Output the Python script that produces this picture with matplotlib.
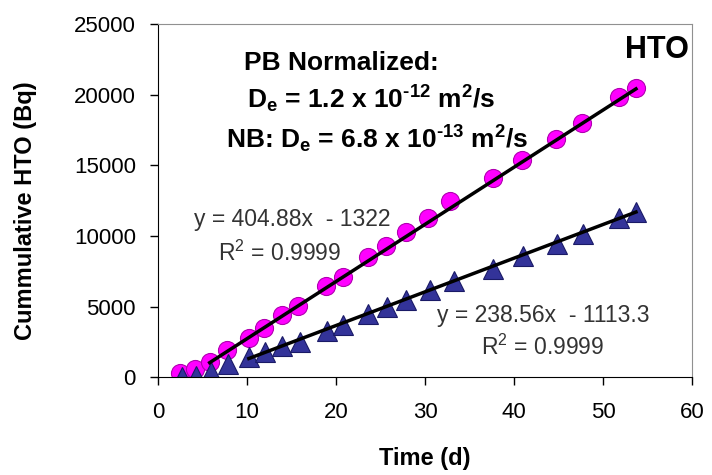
import numpy as np
import matplotlib
matplotlib.use('Agg')
import matplotlib.pyplot as plt

plt.rcParams['font.family'] = ['Liberation Sans', 'DejaVu Sans']
plt.rcParams['mathtext.fontset'] = 'custom'
plt.rcParams['mathtext.rm'] = 'Liberation Sans'
plt.rcParams['mathtext.bf'] = 'Liberation Sans:bold'
plt.rcParams['mathtext.it'] = 'Liberation Sans:italic'

# PB (pink circles)
pb_time = [2.5, 4.2, 5.8, 7.8, 10.2, 11.9, 13.9, 15.7, 18.9, 20.8, 23.6,
           25.6, 27.9, 30.3, 32.8, 37.6, 40.9, 44.7, 47.6, 51.8, 53.7]
pb_act = [280, 565, 1060, 1910, 2760, 3460, 4380, 5020, 6430, 7070, 8480,
          9260, 10250, 11240, 12510, 14130, 15410, 16890, 18020, 19860, 20490]

# NB (blue triangles)
nb_time = [2.7, 4.3, 6.0, 7.9, 10.2, 12.0, 13.9, 15.9, 19.0, 20.8, 23.6,
           25.7, 27.9, 30.6, 33.2, 37.6, 41.0, 44.8, 47.8, 51.8, 53.7]
nb_act = [0, 100, 400, 900, 1400, 1750, 2200, 2500, 3250, 3700, 4500,
          4950, 5450, 6150, 6800, 7650, 8600, 9450, 10150, 11250, 11700]

# linear fits (slope, intercept, start, end)
pb_fit = (404.88, -1322, 5.8, 53.7)
nb_fit = (238.56, -1113.3, 10.2, 53.7)

fig = plt.figure(figsize=(7.12, 4.75), dpi=100)
ax = fig.add_axes([0.222, 0.206, 0.75, 0.743])

ax.plot(pb_time, pb_act, 'o', ms=13, mfc='#ff00ff', mec='#b000b0', mew=0.8, zorder=2)
ax.plot(nb_time, nb_act, '^', ms=14, mfc='#333399', mec='#1a1a66', mew=0.8, zorder=2)

for slope, icpt, t0, t1 in (pb_fit, nb_fit):
    tt = np.array([t0, t1])
    ax.plot(tt, slope * tt + icpt, color='black', lw=2.5, zorder=3)

ax.set_xlim(0, 60)
ax.set_ylim(0, 25000)
ax.set_xticks(range(0, 61, 10))
ax.set_yticks(range(0, 25001, 5000))
ax.tick_params(direction='out', length=6, width=1, labelsize=16)
ax.tick_params(axis='x', pad=12)
ax.tick_params(axis='y', pad=10)
for s in ('top', 'right'):
    ax.spines[s].set_color('#909090')

ax.set_xlabel('Time (d)', fontsize=17, fontweight='bold')
ax.set_ylabel('Cummulative HTO (Bq)', fontsize=17, fontweight='bold')
ax.xaxis.set_label_coords(0.5, -0.197)
ax.yaxis.set_label_coords(-0.226, 0.473)

bold = dict(transform=ax.transAxes, fontsize=19, fontweight='bold',
            ha='center', va='center')
ax.text(0.343, 0.890, 'PB Normalized:', **bold)
ax.text(0.399, 0.788, 'D$_\\mathbf{e}$ = 1.2 x 10$^{\\mathbf{\u201012}}$ m$^{\\mathbf{2}}$/s', **bold)
ax.text(0.41, 0.674, 'NB: D$_\\mathbf{e}$ = 6.8 x 10$^{\\mathbf{\u201013}}$ m$^{\\mathbf{2}}$/s', **bold)
ax.text(0.934, 0.926, 'HTO', transform=ax.transAxes, fontsize=22,
        fontweight='bold', ha='center', va='center')

eq = dict(transform=ax.transAxes, fontsize=16.5, color='#333333',
          ha='center', va='center')
ax.text(0.251, 0.448, 'y = 404.88x  - 1322', **eq)
ax.text(0.228, 0.351, r'R$^2$ = 0.9999', **eq)
ax.text(0.721, 0.176, 'y = 238.56x  - 1113.3', **eq)
ax.text(0.721, 0.085, r'R$^2$ = 0.9999', **eq)

fig.savefig('out.png', dpi=100)
